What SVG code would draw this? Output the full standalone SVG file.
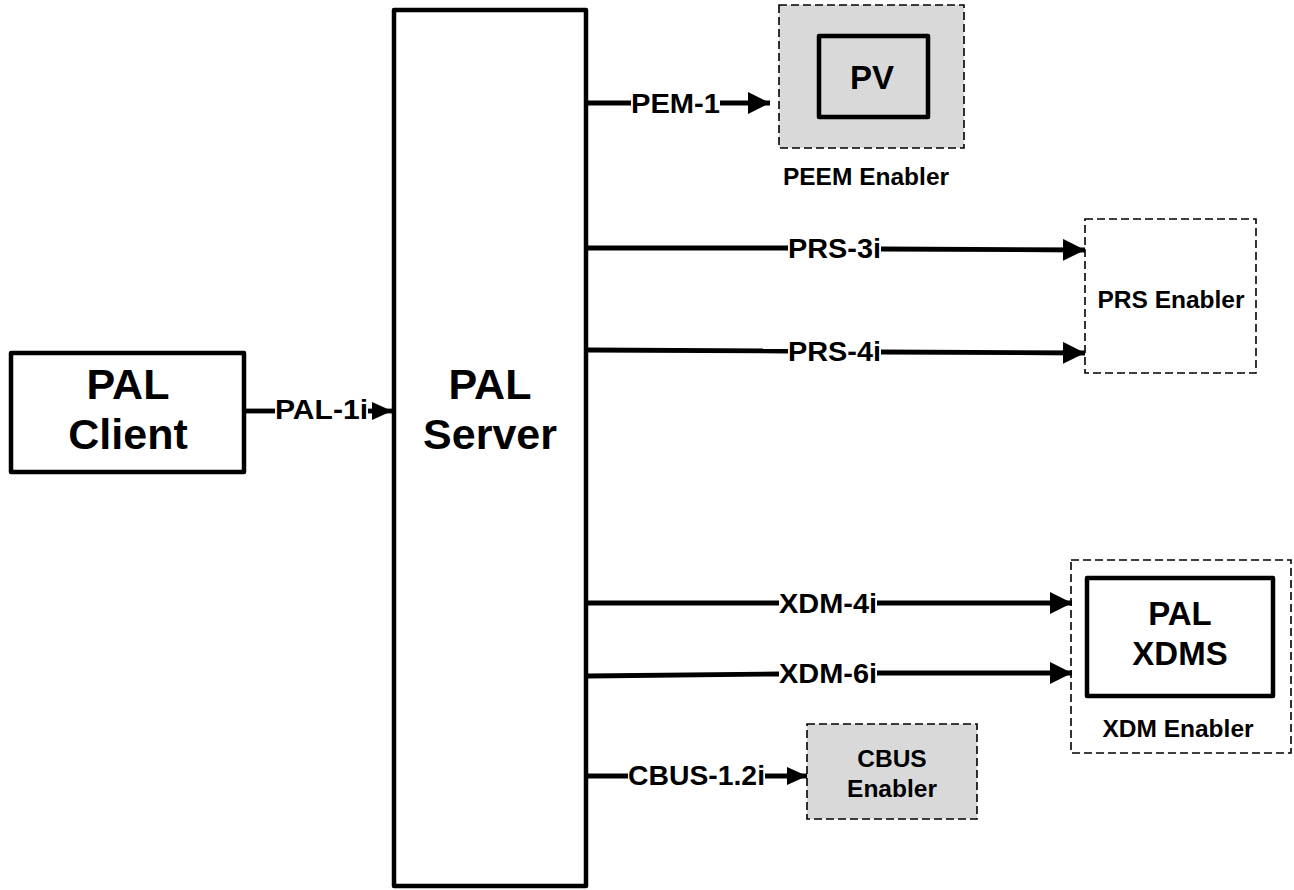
<svg xmlns="http://www.w3.org/2000/svg" width="1294" height="890" viewBox="0 0 1294 890">
<defs>
<style>
.solid{fill:#fff;stroke:#000;stroke-width:4.5;stroke-linejoin:round}
.inner{fill:none;stroke:#000;stroke-width:4.5;stroke-linejoin:round}
.dash{stroke:#000;stroke-width:1.6;stroke-dasharray:8 4}
.gray{fill:#d9d9d9}
.none{fill:none}
.big{font-family:"Liberation Sans",Arial,sans-serif;font-weight:bold;font-size:43px;text-anchor:middle}
.mid{font-family:"Liberation Sans",Arial,sans-serif;font-weight:bold;font-size:33px;text-anchor:middle}
.small{font-family:"Liberation Sans",Arial,sans-serif;font-weight:bold;font-size:24.5px;text-anchor:middle}
.lbl{font-family:"Liberation Sans",Arial,sans-serif;font-weight:bold;font-size:27px}
.ln{stroke:#000;stroke-width:4.8;fill:none}
</style>
<marker id="ah" markerUnits="userSpaceOnUse" markerWidth="22" markerHeight="22" refX="22" refY="11" orient="auto" viewBox="0 0 22 22">
<path d="M0,0 L22,11 L0,22 Z" fill="#000"/>
</marker>
<marker id="ahs" markerUnits="userSpaceOnUse" markerWidth="20" markerHeight="18" refX="20" refY="9" orient="auto" viewBox="0 0 20 18">
<path d="M0,0 L20,9 L0,18 Z" fill="#000"/>
</marker>
</defs>

<g id="pal-client">
<rect class="solid" x="11" y="353" width="233" height="119"/>
<text class="big" x="128" y="399">PAL</text>
<text class="big" x="128" y="449">Client</text>
</g>

<g id="pal-server">
<rect class="solid" x="394" y="10" width="192" height="876"/>
<text class="big" x="490" y="399">PAL</text>
<text class="big" x="490" y="449">Server</text>
</g>

<g id="peem-enabler">
<rect class="dash gray" x="779" y="5" width="185" height="143"/>
<rect class="inner" x="819" y="36" width="109" height="81"/>
<text class="mid" x="872" y="89">PV</text>
<text class="small" x="866" y="185">PEEM Enabler</text>
</g>

<g id="prs-enabler">
<rect class="dash none" x="1085" y="219" width="171" height="154"/>
<text class="small" x="1171" y="308">PRS Enabler</text>
</g>

<g id="xdm-enabler">
<rect class="dash none" x="1071" y="560" width="220" height="193"/>
<rect class="inner" x="1087" y="578" width="186" height="118"/>
<text class="mid" x="1180" y="625">PAL</text>
<text class="mid" x="1180" y="665">XDMS</text>
<text class="small" x="1178" y="737">XDM Enabler</text>
</g>

<g id="cbus-enabler">
<rect class="dash gray" x="807" y="724" width="170" height="95"/>
<text class="small" x="892" y="767">CBUS</text>
<text class="small" x="892" y="797">Enabler</text>
</g>

<g id="connectors">
<line class="ln" x1="244" y1="411" x2="275" y2="411"/>
<text class="lbl" x="275" y="419" textLength="93" lengthAdjust="spacingAndGlyphs">PAL-1i</text>
<line class="ln" x1="368" y1="411" x2="392" y2="411" marker-end="url(#ahs)"/>

<line class="ln" x1="588" y1="103" x2="631" y2="103"/>
<text class="lbl" x="631" y="113" textLength="89" lengthAdjust="spacingAndGlyphs">PEM-1</text>
<line class="ln" x1="720" y1="103" x2="770" y2="103" marker-end="url(#ah)"/>

<line class="ln" x1="588" y1="248" x2="788" y2="248"/>
<text class="lbl" x="788" y="258" textLength="93" lengthAdjust="spacingAndGlyphs">PRS-3i</text>
<line class="ln" x1="881" y1="249" x2="1085" y2="250" marker-end="url(#ah)"/>

<line class="ln" x1="588" y1="350" x2="788" y2="351"/>
<text class="lbl" x="788" y="361" textLength="93" lengthAdjust="spacingAndGlyphs">PRS-4i</text>
<line class="ln" x1="881" y1="352" x2="1085" y2="353" marker-end="url(#ah)"/>

<line class="ln" x1="588" y1="603" x2="779" y2="603"/>
<text class="lbl" x="779" y="613" textLength="98" lengthAdjust="spacingAndGlyphs">XDM-4i</text>
<line class="ln" x1="877" y1="603" x2="1072" y2="603" marker-end="url(#ah)"/>

<line class="ln" x1="588" y1="676" x2="779" y2="674"/>
<text class="lbl" x="779" y="683" textLength="98" lengthAdjust="spacingAndGlyphs">XDM-6i</text>
<line class="ln" x1="877" y1="673" x2="1072" y2="673" marker-end="url(#ah)"/>

<line class="ln" x1="588" y1="776" x2="628" y2="776"/>
<text class="lbl" x="628" y="785" textLength="137" lengthAdjust="spacingAndGlyphs">CBUS-1.2i</text>
<line class="ln" x1="765" y1="776" x2="807" y2="776" marker-end="url(#ahs)"/>
</g>
</svg>
